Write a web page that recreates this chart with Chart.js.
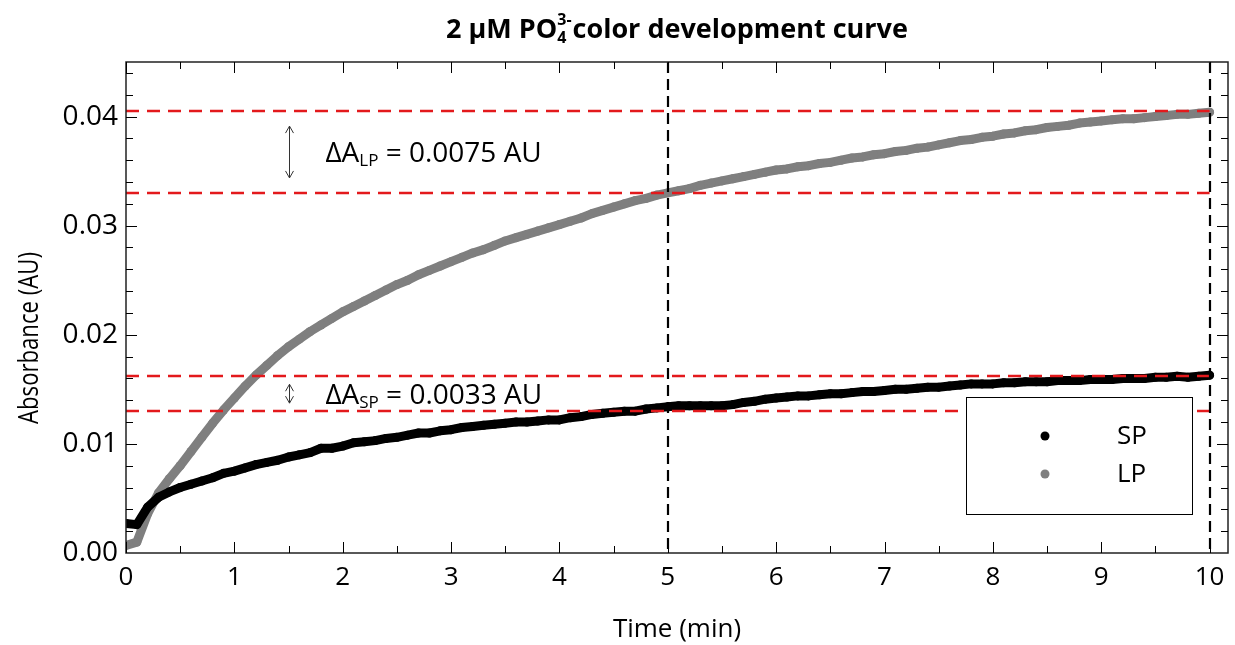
<!DOCTYPE html>
<html>
<head>
<meta charset="utf-8">
<script src="https://cdn.jsdelivr.net/npm/chart.js@4.4.1/dist/chart.umd.min.js"></script>
<style>
  html, body { margin: 0; padding: 0; background: #fff; }
  #wrap { width: 1235px; height: 645px; }
</style>
</head>
<body>
<div id="wrap"><canvas id="devChart" width="1235" height="645"></canvas></div>
<script>
// time axis (min), one reading every 0.1 min
const times = [
  0.0, 0.1, 0.2, 0.3, 0.4, 0.5, 0.6, 0.7, 0.8, 0.9,
  1.0, 1.1, 1.2, 1.3, 1.4, 1.5, 1.6, 1.7, 1.8, 1.9,
  2.0, 2.1, 2.2, 2.3, 2.4, 2.5, 2.6, 2.7, 2.8, 2.9,
  3.0, 3.1, 3.2, 3.3, 3.4, 3.5, 3.6, 3.7, 3.8, 3.9,
  4.0, 4.1, 4.2, 4.3, 4.4, 4.5, 4.6, 4.7, 4.8, 4.9,
  5.0, 5.1, 5.2, 5.3, 5.4, 5.5, 5.6, 5.7, 5.8, 5.9,
  6.0, 6.1, 6.2, 6.3, 6.4, 6.5, 6.6, 6.7, 6.8, 6.9,
  7.0, 7.1, 7.2, 7.3, 7.4, 7.5, 7.6, 7.7, 7.8, 7.9,
  8.0, 8.1, 8.2, 8.3, 8.4, 8.5, 8.6, 8.7, 8.8, 8.9,
  9.0, 9.1, 9.2, 9.3, 9.4, 9.5, 9.6, 9.7, 9.8, 9.9,
  10.0
];

// SP absorbance (AU)
const spValues = [
  0.0027, 0.0026, 0.0042, 0.0051, 0.0056, 0.0060, 0.0063, 0.0066, 0.0069, 0.0073,
  0.0075, 0.0078, 0.0081, 0.0083, 0.0085, 0.0088, 0.0090, 0.0092, 0.0096, 0.0096,
  0.0098, 0.0101, 0.0102, 0.0103, 0.0105, 0.0106, 0.0108, 0.0110, 0.0110, 0.0112,
  0.0113, 0.0115, 0.0116, 0.0117, 0.0118, 0.0119, 0.0120, 0.0120, 0.0121, 0.0122,
  0.0122, 0.0124, 0.0125, 0.0127, 0.0128, 0.0129, 0.0130, 0.0130, 0.0132, 0.0133,
  0.0134, 0.0135, 0.0135, 0.0135, 0.0135, 0.0135, 0.0136, 0.0138, 0.0139, 0.0141,
  0.0142, 0.0143, 0.0144, 0.0144, 0.0145, 0.0146, 0.0146, 0.0147, 0.0148, 0.0148,
  0.0149, 0.0150, 0.0150, 0.0151, 0.0152, 0.0152, 0.0153, 0.0154, 0.0155, 0.0155,
  0.0155, 0.0156, 0.0156, 0.0157, 0.0157, 0.0157, 0.0158, 0.0158, 0.0158, 0.0159,
  0.0159, 0.0159, 0.0160, 0.0160, 0.0160, 0.0161, 0.0161, 0.0162, 0.0161, 0.0162,
  0.0163
];

// LP absorbance (AU)
const lpValues = [
  0.0007, 0.0010, 0.0036, 0.0055, 0.0068, 0.0080, 0.0093, 0.0106, 0.0119, 0.0131,
  0.0142, 0.0153, 0.0163, 0.0172, 0.0181, 0.0189, 0.0196, 0.0203, 0.0209, 0.0215,
  0.0221, 0.0226, 0.0231, 0.0236, 0.0241, 0.0246, 0.0250, 0.0255, 0.0259, 0.0263,
  0.0267, 0.0271, 0.0275, 0.0278, 0.0282, 0.0286, 0.0289, 0.0292, 0.0295, 0.0298,
  0.0301, 0.0304, 0.0307, 0.0311, 0.0314, 0.0317, 0.0320, 0.0323, 0.0325, 0.0328,
  0.0330, 0.0332, 0.0334, 0.0337, 0.0339, 0.0341, 0.0343, 0.0345, 0.0347, 0.0349,
  0.0351, 0.0352, 0.0354, 0.0355, 0.0357, 0.0358, 0.0360, 0.0362, 0.0363, 0.0365,
  0.0366, 0.0368, 0.0369, 0.0371, 0.0372, 0.0374, 0.0376, 0.0378, 0.0379, 0.0381,
  0.0382, 0.0384, 0.0385, 0.0387, 0.0388, 0.0390, 0.0391, 0.0392, 0.0394, 0.0395,
  0.0396, 0.0397, 0.0398, 0.0398, 0.0399, 0.0400, 0.0401, 0.0402, 0.0402, 0.0403,
  0.0404
];

const seriesNames = ['SP', 'LP'];
const xTickValues = [0, 1, 2, 3, 4, 5, 6, 7, 8, 9, 10];
const yTickValues = [0.00, 0.01, 0.02, 0.03, 0.04];

// dashed guide lines
const refLevels = [0.0405, 0.033, 0.0162, 0.013];   // red, horizontal
const refTimes = [5, 10];                           // black, vertical

// delta annotations: [upper level, lower level]
const deltaNames = ['LP', 'SP'];
const deltaValues = ['0.0075', '0.0033'];
const deltaBands = [[0.0405, 0.033], [0.0162, 0.013]];

const FONT = '"Open Sans", "Noto Sans", sans-serif';
const colors = ['#000000', '#7f7f7f'];

function toPoints(vals) {
  return vals.map((v, i) => ({ x: times[i], y: v }));
}

const decorPlugin = {
  id: 'decor',
  afterDatasetsDraw(chart) {
    const { ctx, chartArea: a, scales: { x, y } } = chart;
    ctx.save();

    // red horizontal levels
    ctx.strokeStyle = '#e3191c';
    ctx.lineWidth = 2.5;
    ctx.setLineDash([13, 8]);
    refLevels.forEach(v => {
      const py = Math.round(y.getPixelForValue(v));
      ctx.beginPath();
      ctx.moveTo(x.getPixelForValue(0), py);
      ctx.lineTo(x.getPixelForValue(10), py);
      ctx.stroke();
    });

    // black vertical lines
    ctx.strokeStyle = '#000';
    ctx.lineWidth = 2.2;
    ctx.setLineDash([11, 6]);
    refTimes.forEach(t => {
      const px = Math.round(x.getPixelForValue(t));
      ctx.beginPath();
      ctx.moveTo(px, a.top);
      ctx.lineTo(px, a.bottom);
      ctx.stroke();
    });
    ctx.setLineDash([]);

    // double arrows + delta text
    const arrowX = Math.round(x.getPixelForValue(1.5)) + 0.5;
    const textX = x.getPixelForValue(1.84);
    deltaBands.forEach((band, i) => {
      const yTop = y.getPixelForValue(band[0]);
      const yBot = y.getPixelForValue(band[1]);
      const inset = i === 0 ? 15 : 8;
      const y1 = yTop + inset, y2 = yBot - inset;
      ctx.strokeStyle = '#333';
      ctx.lineWidth = 1;
      ctx.beginPath();
      ctx.moveTo(arrowX, y1); ctx.lineTo(arrowX, y2);
      ctx.moveTo(arrowX - 4, y1 + 7); ctx.lineTo(arrowX, y1); ctx.lineTo(arrowX + 4, y1 + 7);
      ctx.moveTo(arrowX - 4, y2 - 7); ctx.lineTo(arrowX, y2); ctx.lineTo(arrowX + 4, y2 - 7);
      ctx.stroke();

      const mid = (yTop + yBot) / 2;
      ctx.fillStyle = '#000';
      ctx.textAlign = 'left';
      ctx.textBaseline = 'alphabetic';
      const base = mid + 10;
      ctx.font = '28px ' + FONT;
      ctx.fillText('\u0394A', textX, base);
      let cx = textX + ctx.measureText('\u0394A').width;
      ctx.font = '17px ' + FONT;
      ctx.fillText(deltaNames[i], cx, base + 4);
      cx += ctx.measureText(deltaNames[i]).width;
      ctx.font = '28px ' + FONT;
      ctx.fillText(' = ' + deltaValues[i] + ' AU', cx, base);
    });

    // legend box
    const bw = 226, bh = 117;
    const bx = a.right - 36 - bw, by = a.bottom - 39 - bh;
    ctx.fillStyle = '#fff';
    ctx.fillRect(bx, by, bw, bh);
    ctx.strokeStyle = '#000';
    ctx.lineWidth = 1;
    ctx.strokeRect(bx + 0.5, by + 0.5, bw, bh);
    chart.data.datasets.forEach((ds, i) => {
      const ly = by + 39 + i * 38;
      ctx.fillStyle = ds.backgroundColor;
      ctx.beginPath();
      ctx.arc(bx + 79, ly, 4.5, 0, Math.PI * 2);
      ctx.fill();
      ctx.fillStyle = '#000';
      ctx.font = '26px ' + FONT;
      ctx.textAlign = 'left';
      ctx.textBaseline = 'middle';
      ctx.fillText(ds.label, bx + 151, ly + 1);
    });
    ctx.restore();
  },
  afterDraw(chart) {
    const { ctx, chartArea: a, scales: { x, y } } = chart;
    ctx.save();
    // frame
    ctx.strokeStyle = '#222';
    ctx.lineWidth = 1.5;
    ctx.strokeRect(a.left, a.top, a.right - a.left, a.bottom - a.top);

    // inward ticks on all four sides
    ctx.lineWidth = 1;
    ctx.strokeStyle = '#000';
    ctx.beginPath();
    xTickValues.forEach(v => {
      const px = Math.round(x.getPixelForValue(v)) + 0.5;
      ctx.moveTo(px, a.bottom); ctx.lineTo(px, a.bottom - 11);
      ctx.moveTo(px, a.top); ctx.lineTo(px, a.top + 11);
      const m = v + 0.5;
      if (m <= x.max) {
        const pm = Math.round(x.getPixelForValue(m)) + 0.5;
        ctx.moveTo(pm, a.bottom); ctx.lineTo(pm, a.bottom - 7);
        ctx.moveTo(pm, a.top); ctx.lineTo(pm, a.top + 7);
      }
    });
    for (let k = 1; k * 0.002 <= y.max + 1e-9; k++) {
      const py = Math.round(y.getPixelForValue(k * 0.002)) + 0.5;
      const len = k % 5 === 0 ? 11 : 7;
      ctx.moveTo(a.left, py); ctx.lineTo(a.left + len, py);
      ctx.moveTo(a.right, py); ctx.lineTo(a.right - len, py);
    }
    ctx.stroke();

    // titles
    ctx.fillStyle = '#000';
    ctx.textBaseline = 'alphabetic';
    ctx.textAlign = 'left';
    const p1 = '2 \u03bcM PO', p3 = 'color development curve';
    ctx.font = 'bold 27px ' + FONT;
    const w1 = ctx.measureText(p1).width, w3 = ctx.measureText(p3).width;
    ctx.font = 'bold 16px ' + FONT;
    const w2 = Math.max(ctx.measureText('3-').width, ctx.measureText('4').width) + 1;
    let tx = (a.left + a.right) / 2 - (w1 + w2 + w3) / 2;
    const tb = 38;
    ctx.font = 'bold 27px ' + FONT;
    ctx.fillText(p1, tx, tb);
    tx += w1;
    ctx.font = 'bold 16px ' + FONT;
    ctx.fillText('3-', tx, tb - 13);
    ctx.fillText('4', tx, tb + 5);
    tx += w2;
    ctx.font = 'bold 27px ' + FONT;
    ctx.fillText(p3, tx, tb);

    ctx.font = '26px ' + FONT;
    ctx.textAlign = 'center';
    ctx.textBaseline = 'middle';
    ctx.fillText('Time (min)', (a.left + a.right) / 2, 630);

    ctx.translate(30, 338);
    ctx.rotate(-Math.PI / 2);
    ctx.scale(0.82, 1);
    ctx.font = '27px ' + FONT;
    ctx.fillText('Absorbance (AU)', 0, 0);
    ctx.restore();
  }
};

const ctx = document.getElementById('devChart').getContext('2d');
const devChart = new Chart(ctx, {
  type: 'scatter',
  data: {
    datasets: [
      {
        label: seriesNames[0],
        data: toPoints(spValues),
        backgroundColor: colors[0],
        borderColor: colors[0],
        showLine: true,
        borderWidth: 9,
        borderCapStyle: 'round',
        borderJoinStyle: 'round',
        pointRadius: 4.5,
        pointBorderWidth: 0,
        order: 0
      },
      {
        label: seriesNames[1],
        data: toPoints(lpValues),
        backgroundColor: colors[1],
        borderColor: colors[1],
        showLine: true,
        borderWidth: 9,
        borderCapStyle: 'round',
        borderJoinStyle: 'round',
        pointRadius: 4.5,
        pointBorderWidth: 0,
        order: 1
      }
    ]
  },
  options: {
    responsive: false,
    animation: false,
    devicePixelRatio: 1,
    layout: { padding: { top: 62, right: 7, left: 0, bottom: 0 } },
    plugins: {
      legend: { display: false },
      title: { display: false },
      tooltip: { enabled: false }
    },
    scales: {
      x: {
        type: 'linear',
        min: 0,
        max: 10.17,
        grid: { display: false, drawTicks: false },
        border: { display: false },
        afterBuildTicks: s => { s.ticks = xTickValues.map(v => ({ value: v })); },
        afterFit: s => { s.height = 92; },
        ticks: {
          color: '#000',
          padding: 9,
          maxRotation: 0,
          font: { family: FONT, size: 26 },
          callback: v => String(v)
        }
      },
      y: {
        min: 0,
        max: 0.045,
        grid: { display: false, drawTicks: false },
        border: { display: false },
        afterBuildTicks: s => { s.ticks = yTickValues.map(v => ({ value: v })); },
        afterFit: s => { s.width = 126; },
        ticks: {
          color: '#000',
          padding: 8,
          font: { family: FONT, size: 28 },
          callback: v => v.toFixed(2)
        }
      }
    }
  },
  plugins: [decorPlugin]
});
</script>
</body>
</html>
